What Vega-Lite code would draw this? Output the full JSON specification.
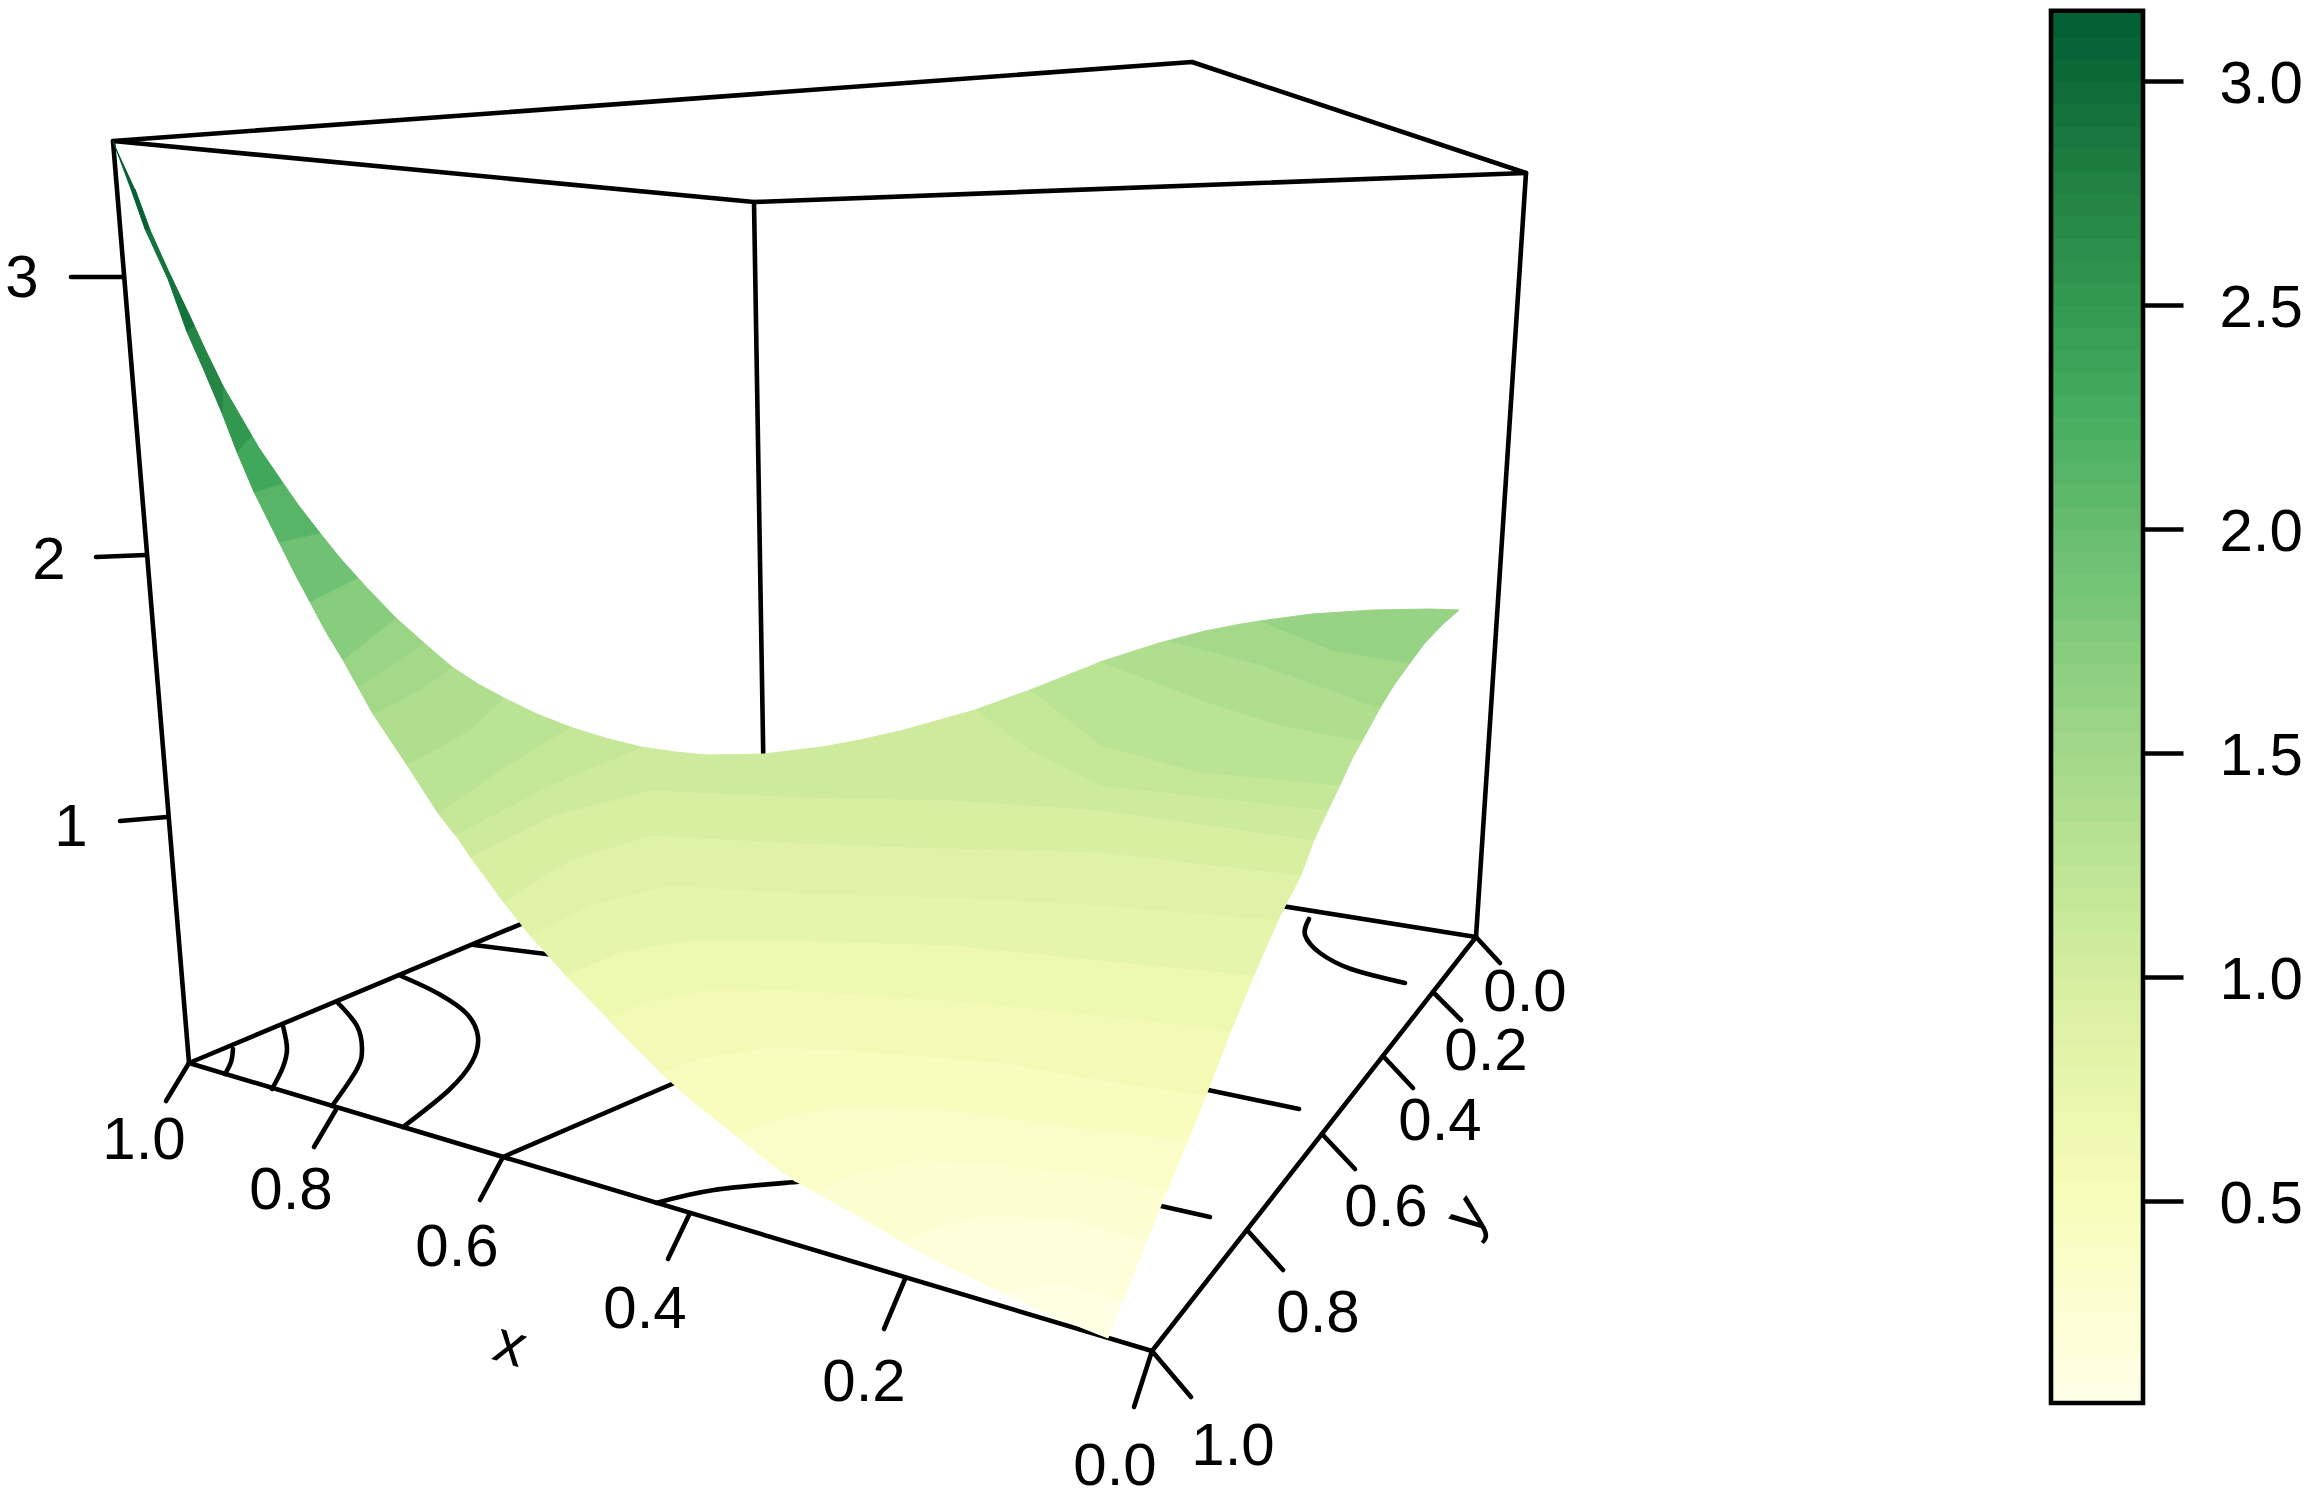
{"$schema":"https://vega.github.io/schema/vega-lite/v6.json","padding":0,"spacing":48,"background":"white","config":{"view":{"stroke":null},"concat":{"spacing":48}},
"datasets":{
"surf":[
{"g":"a","z":0.075,"sx":1000,"sy":1292},{"g":"a","z":0.075,"sx":1055,"sy":1317},{"g":"a","z":0.075,"sx":1108,"sy":1338},{"g":"a","z":0.075,"sx":1123,"sy":1300},{"g":"a","z":0.075,"sx":1060,"sy":1283},
{"g":"b","z":0.15,"sx":1000,"sy":1292},{"g":"b","z":0.15,"sx":1060,"sy":1283},{"g":"b","z":0.15,"sx":1123,"sy":1300},{"g":"b","z":0.15,"sx":1147,"sy":1240},{"g":"b","z":0.15,"sx":1070,"sy":1220},{"g":"b","z":0.15,"sx":990,"sy":1215},{"g":"b","z":0.15,"sx":940,"sy":1225},{"g":"b","z":0.15,"sx":902,"sy":1242},{"g":"b","z":0.15,"sx":953,"sy":1269},
{"g":"c","z":0.25,"sx":902,"sy":1242},{"g":"c","z":0.25,"sx":940,"sy":1225},{"g":"c","z":0.25,"sx":990,"sy":1215},{"g":"c","z":0.25,"sx":1070,"sy":1220},{"g":"c","z":0.25,"sx":1147,"sy":1240},{"g":"c","z":0.25,"sx":1167,"sy":1190},{"g":"c","z":0.25,"sx":1100,"sy":1175},{"g":"c","z":0.25,"sx":1000,"sy":1165},{"g":"c","z":0.25,"sx":920,"sy":1160},{"g":"c","z":0.25,"sx":860,"sy":1172},{"g":"c","z":0.25,"sx":815,"sy":1192},{"g":"c","z":0.25,"sx":851,"sy":1212},
{"g":"d","z":0.35,"sx":815,"sy":1192},{"g":"d","z":0.35,"sx":860,"sy":1172},{"g":"d","z":0.35,"sx":920,"sy":1160},{"g":"d","z":0.35,"sx":1000,"sy":1165},{"g":"d","z":0.35,"sx":1100,"sy":1175},{"g":"d","z":0.35,"sx":1167,"sy":1190},{"g":"d","z":0.35,"sx":1188,"sy":1140},{"g":"d","z":0.35,"sx":1060,"sy":1125},{"g":"d","z":0.35,"sx":950,"sy":1110},{"g":"d","z":0.35,"sx":850,"sy":1105},{"g":"d","z":0.35,"sx":790,"sy":1115},{"g":"d","z":0.35,"sx":735,"sy":1135},{"g":"d","z":0.35,"sx":766,"sy":1160},{"g":"d","z":0.35,"sx":796,"sy":1182},
{"g":"e","z":0.45,"sx":735,"sy":1135},{"g":"e","z":0.45,"sx":790,"sy":1115},{"g":"e","z":0.45,"sx":850,"sy":1105},{"g":"e","z":0.45,"sx":950,"sy":1110},{"g":"e","z":0.45,"sx":1060,"sy":1125},{"g":"e","z":0.45,"sx":1188,"sy":1140},{"g":"e","z":0.45,"sx":1206,"sy":1095},{"g":"e","z":0.45,"sx":1100,"sy":1080},{"g":"e","z":0.45,"sx":1000,"sy":1062},{"g":"e","z":0.45,"sx":850,"sy":1050},{"g":"e","z":0.45,"sx":770,"sy":1047},{"g":"e","z":0.45,"sx":700,"sy":1058},{"g":"e","z":0.45,"sx":660,"sy":1072},{"g":"e","z":0.45,"sx":697,"sy":1105},
{"g":"f","z":0.55,"sx":660,"sy":1072},{"g":"f","z":0.55,"sx":700,"sy":1058},{"g":"f","z":0.55,"sx":770,"sy":1047},{"g":"f","z":0.55,"sx":850,"sy":1050},{"g":"f","z":0.55,"sx":1000,"sy":1062},{"g":"f","z":0.55,"sx":1100,"sy":1080},{"g":"f","z":0.55,"sx":1206,"sy":1095},{"g":"f","z":0.55,"sx":1231,"sy":1030},{"g":"f","z":0.55,"sx":1100,"sy":1015},{"g":"f","z":0.55,"sx":950,"sy":1000},{"g":"f","z":0.55,"sx":800,"sy":990},{"g":"f","z":0.55,"sx":720,"sy":988},{"g":"f","z":0.55,"sx":650,"sy":1000},{"g":"f","z":0.55,"sx":607,"sy":1018},{"g":"f","z":0.55,"sx":634,"sy":1046},
{"g":"h","z":0.65,"sx":607,"sy":1018},{"g":"h","z":0.65,"sx":650,"sy":1000},{"g":"h","z":0.65,"sx":720,"sy":988},{"g":"h","z":0.65,"sx":800,"sy":990},{"g":"h","z":0.65,"sx":950,"sy":1000},{"g":"h","z":0.65,"sx":1100,"sy":1015},{"g":"h","z":0.65,"sx":1231,"sy":1030},{"g":"h","z":0.65,"sx":1254,"sy":975},{"g":"h","z":0.65,"sx":1100,"sy":960},{"g":"h","z":0.65,"sx":950,"sy":945},{"g":"h","z":0.65,"sx":800,"sy":940},{"g":"h","z":0.65,"sx":690,"sy":940},{"g":"h","z":0.65,"sx":620,"sy":952},{"g":"h","z":0.65,"sx":565,"sy":975},
{"g":"i","z":0.75,"sx":565,"sy":975},{"g":"i","z":0.75,"sx":620,"sy":952},{"g":"i","z":0.75,"sx":690,"sy":940},{"g":"i","z":0.75,"sx":800,"sy":940},{"g":"i","z":0.75,"sx":950,"sy":945},{"g":"i","z":0.75,"sx":1100,"sy":960},{"g":"i","z":0.75,"sx":1254,"sy":975},{"g":"i","z":0.75,"sx":1278,"sy":920},{"g":"i","z":0.75,"sx":1100,"sy":905},{"g":"i","z":0.75,"sx":950,"sy":897},{"g":"i","z":0.75,"sx":800,"sy":893},{"g":"i","z":0.75,"sx":670,"sy":885},{"g":"i","z":0.75,"sx":590,"sy":905},{"g":"i","z":0.75,"sx":530,"sy":936},
{"g":"j","z":0.85,"sx":530,"sy":936},{"g":"j","z":0.85,"sx":590,"sy":905},{"g":"j","z":0.85,"sx":670,"sy":885},{"g":"j","z":0.85,"sx":800,"sy":893},{"g":"j","z":0.85,"sx":950,"sy":897},{"g":"j","z":0.85,"sx":1100,"sy":905},{"g":"j","z":0.85,"sx":1278,"sy":920},{"g":"j","z":0.85,"sx":1301,"sy":875},{"g":"j","z":0.85,"sx":1100,"sy":852},{"g":"j","z":0.85,"sx":950,"sy":848},{"g":"j","z":0.85,"sx":800,"sy":843},{"g":"j","z":0.85,"sx":650,"sy":835},{"g":"j","z":0.85,"sx":570,"sy":860},{"g":"j","z":0.85,"sx":503,"sy":902},
{"g":"k","z":0.95,"sx":503,"sy":902},{"g":"k","z":0.95,"sx":570,"sy":860},{"g":"k","z":0.95,"sx":650,"sy":835},{"g":"k","z":0.95,"sx":800,"sy":843},{"g":"k","z":0.95,"sx":950,"sy":848},{"g":"k","z":0.95,"sx":1100,"sy":852},{"g":"k","z":0.95,"sx":1301,"sy":875},{"g":"k","z":0.95,"sx":1314,"sy":840},{"g":"k","z":0.95,"sx":1100,"sy":810},{"g":"k","z":0.95,"sx":950,"sy":800},{"g":"k","z":0.95,"sx":800,"sy":797},{"g":"k","z":0.95,"sx":650,"sy":790},{"g":"k","z":0.95,"sx":555,"sy":815},{"g":"k","z":0.95,"sx":470,"sy":857},
{"g":"l","z":1.05,"sx":470,"sy":857},{"g":"l","z":1.05,"sx":555,"sy":815},{"g":"l","z":1.05,"sx":650,"sy":790},{"g":"l","z":1.05,"sx":800,"sy":797},{"g":"l","z":1.05,"sx":950,"sy":800},{"g":"l","z":1.05,"sx":1100,"sy":810},{"g":"l","z":1.05,"sx":1314,"sy":840},{"g":"l","z":1.05,"sx":1328,"sy":810},{"g":"l","z":1.05,"sx":1220,"sy":798},{"g":"l","z":1.05,"sx":1100,"sy":785},{"g":"l","z":1.05,"sx":1030,"sy":750},{"g":"l","z":1.05,"sx":975,"sy":710},{"g":"l","z":1.05,"sx":904,"sy":730},{"g":"l","z":1.05,"sx":860,"sy":740},{"g":"l","z":1.05,"sx":822,"sy":747},{"g":"l","z":1.05,"sx":764,"sy":754},{"g":"l","z":1.05,"sx":708,"sy":755},{"g":"l","z":1.05,"sx":675,"sy":752},{"g":"l","z":1.05,"sx":641,"sy":747},{"g":"l","z":1.05,"sx":550,"sy":785},{"g":"l","z":1.05,"sx":455,"sy":835},
{"g":"m","z":1.15,"sx":975,"sy":710},{"g":"m","z":1.15,"sx":1030,"sy":690},{"g":"m","z":1.15,"sx":1100,"sy":745},{"g":"m","z":1.15,"sx":1200,"sy":772},{"g":"m","z":1.15,"sx":1340,"sy":785},{"g":"m","z":1.15,"sx":1328,"sy":810},{"g":"m","z":1.15,"sx":1220,"sy":798},{"g":"m","z":1.15,"sx":1100,"sy":785},{"g":"m","z":1.15,"sx":1030,"sy":750},
{"g":"n","z":1.25,"sx":1030,"sy":690},{"g":"n","z":1.25,"sx":1088,"sy":667},{"g":"n","z":1.25,"sx":1100,"sy":662},{"g":"n","z":1.25,"sx":1200,"sy":700},{"g":"n","z":1.25,"sx":1280,"sy":725},{"g":"n","z":1.25,"sx":1362,"sy":741},{"g":"n","z":1.25,"sx":1353,"sy":757},{"g":"n","z":1.25,"sx":1340,"sy":785},{"g":"n","z":1.25,"sx":1200,"sy":772},{"g":"n","z":1.25,"sx":1100,"sy":745},
{"g":"o","z":1.35,"sx":1100,"sy":662},{"g":"o","z":1.35,"sx":1159,"sy":643},{"g":"o","z":1.35,"sx":1167,"sy":641},{"g":"o","z":1.35,"sx":1267,"sy":667},{"g":"o","z":1.35,"sx":1380,"sy":708},{"g":"o","z":1.35,"sx":1362,"sy":741},{"g":"o","z":1.35,"sx":1280,"sy":725},{"g":"o","z":1.35,"sx":1200,"sy":700},
{"g":"p","z":1.45,"sx":1167,"sy":641},{"g":"p","z":1.45,"sx":1205,"sy":631},{"g":"p","z":1.45,"sx":1241,"sy":624},{"g":"p","z":1.45,"sx":1260,"sy":621},{"g":"p","z":1.45,"sx":1330,"sy":650},{"g":"p","z":1.45,"sx":1410,"sy":663},{"g":"p","z":1.45,"sx":1394,"sy":685},{"g":"p","z":1.45,"sx":1380,"sy":708},{"g":"p","z":1.45,"sx":1267,"sy":667},
{"g":"q","z":1.58,"sx":1260,"sy":621},{"g":"q","z":1.58,"sx":1312,"sy":614},{"g":"q","z":1.58,"sx":1374,"sy":610},{"g":"q","z":1.58,"sx":1430,"sy":609},{"g":"q","z":1.58,"sx":1459,"sy":610},{"g":"q","z":1.58,"sx":1442,"sy":625},{"g":"q","z":1.58,"sx":1424,"sy":644},{"g":"q","z":1.58,"sx":1410,"sy":663},{"g":"q","z":1.58,"sx":1330,"sy":650},
{"g":"r","z":1.15,"sx":438,"sy":813},{"g":"r","z":1.15,"sx":455,"sy":835},{"g":"r","z":1.15,"sx":550,"sy":785},{"g":"r","z":1.15,"sx":641,"sy":747},{"g":"r","z":1.15,"sx":605,"sy":738},{"g":"r","z":1.15,"sx":570,"sy":727},{"g":"r","z":1.15,"sx":500,"sy":770},
{"g":"s","z":1.25,"sx":407,"sy":765},{"g":"s","z":1.25,"sx":438,"sy":813},{"g":"s","z":1.25,"sx":500,"sy":770},{"g":"s","z":1.25,"sx":570,"sy":727},{"g":"s","z":1.25,"sx":537,"sy":714},{"g":"s","z":1.25,"sx":504,"sy":698},{"g":"s","z":1.25,"sx":470,"sy":730},
{"g":"t","z":1.35,"sx":373,"sy":714},{"g":"t","z":1.35,"sx":407,"sy":765},{"g":"t","z":1.35,"sx":470,"sy":730},{"g":"t","z":1.35,"sx":504,"sy":698},{"g":"t","z":1.35,"sx":478,"sy":684},{"g":"t","z":1.35,"sx":452,"sy":667},{"g":"t","z":1.35,"sx":420,"sy":690},
{"g":"u","z":1.45,"sx":358,"sy":687},{"g":"u","z":1.45,"sx":373,"sy":714},{"g":"u","z":1.45,"sx":420,"sy":690},{"g":"u","z":1.45,"sx":452,"sy":667},{"g":"u","z":1.45,"sx":424,"sy":643},
{"g":"v","z":1.55,"sx":343,"sy":660},{"g":"v","z":1.55,"sx":358,"sy":687},{"g":"v","z":1.55,"sx":424,"sy":643},{"g":"v","z":1.55,"sx":396,"sy":618},
{"g":"w","z":1.7,"sx":310,"sy":602},{"g":"w","z":1.7,"sx":326,"sy":632},{"g":"w","z":1.7,"sx":343,"sy":660},{"g":"w","z":1.7,"sx":396,"sy":618},{"g":"w","z":1.7,"sx":368,"sy":589},{"g":"w","z":1.7,"sx":358,"sy":578},
{"g":"x","z":1.9,"sx":279,"sy":542},{"g":"x","z":1.9,"sx":294,"sy":572},{"g":"x","z":1.9,"sx":310,"sy":602},{"g":"x","z":1.9,"sx":358,"sy":578},{"g":"x","z":1.9,"sx":340,"sy":558},{"g":"x","z":1.9,"sx":320,"sy":533},
{"g":"y","z":2.1,"sx":254,"sy":492},{"g":"y","z":2.1,"sx":279,"sy":542},{"g":"y","z":2.1,"sx":320,"sy":533},{"g":"y","z":2.1,"sx":299,"sy":506},{"g":"y","z":2.1,"sx":283,"sy":483},
{"g":"z1","z":2.3,"sx":237,"sy":452},{"g":"z1","z":2.3,"sx":254,"sy":492},{"g":"z1","z":2.3,"sx":283,"sy":483},{"g":"z1","z":2.3,"sx":259,"sy":448},{"g":"z1","z":2.3,"sx":252,"sy":436},
{"g":"z2","z":2.5,"sx":222,"sy":413},{"g":"z2","z":2.5,"sx":237,"sy":452},{"g":"z2","z":2.5,"sx":252,"sy":436},{"g":"z2","z":2.5,"sx":223,"sy":386},
{"g":"z3","z":2.7,"sx":187,"sy":332},{"g":"z3","z":2.7,"sx":203,"sy":368},{"g":"z3","z":2.7,"sx":222,"sy":413},{"g":"z3","z":2.7,"sx":223,"sy":386},{"g":"z3","z":2.7,"sx":205,"sy":349},{"g":"z3","z":2.7,"sx":194,"sy":325},
{"g":"z4","z":2.9,"sx":145,"sy":229},{"g":"z4","z":2.9,"sx":168,"sy":279},{"g":"z4","z":2.9,"sx":187,"sy":332},{"g":"z4","z":2.9,"sx":194,"sy":325},{"g":"z4","z":2.9,"sx":187,"sy":310},{"g":"z4","z":2.9,"sx":168,"sy":270},{"g":"z4","z":2.9,"sx":150,"sy":230},
{"g":"z5","z":3.08,"sx":113,"sy":141},{"g":"z5","z":3.08,"sx":131,"sy":189},{"g":"z5","z":3.08,"sx":145,"sy":229},{"g":"z5","z":3.08,"sx":150,"sy":230},{"g":"z5","z":3.08,"sx":135,"sy":189}
],
"lines":[
{"g":"f1","sx":113,"sy":141},{"g":"f1","sx":1192,"sy":62},{"g":"f1","sx":1526,"sy":173},{"g":"f1","sx":754,"sy":202},{"g":"f1","sx":113,"sy":141},
{"g":"f2","sx":113,"sy":141},{"g":"f2","sx":189,"sy":1063},
{"g":"f3","sx":1526,"sy":173},{"g":"f3","sx":1476,"sy":937},
{"g":"f4","sx":754,"sy":202},{"g":"f4","sx":764,"sy":800},
{"g":"f5","sx":189,"sy":1063},{"g":"f5","sx":1152,"sy":1351},{"g":"f5","sx":1476,"sy":937},{"g":"f5","sx":762,"sy":823},{"g":"f5","sx":189,"sy":1063},
{"g":"z3","sx":123,"sy":277},{"g":"z3","sx":71,"sy":277},
{"g":"z2","sx":146,"sy":555},{"g":"z2","sx":96,"sy":557},
{"g":"z1","sx":167,"sy":817},{"g":"z1","sx":120,"sy":821},
{"g":"x10","sx":189,"sy":1063},{"g":"x10","sx":166,"sy":1101},
{"g":"x08","sx":337,"sy":1108},{"g":"x08","sx":314,"sy":1147},
{"g":"x06","sx":503,"sy":1157},{"g":"x06","sx":480,"sy":1200},
{"g":"x04","sx":689,"sy":1215},{"g":"x04","sx":668,"sy":1259},
{"g":"x02","sx":905,"sy":1279},{"g":"x02","sx":884,"sy":1329},
{"g":"x00","sx":1152,"sy":1351},{"g":"x00","sx":1134,"sy":1407},
{"g":"y10","sx":1152,"sy":1351},{"g":"y10","sx":1191,"sy":1397},
{"g":"y08","sx":1247,"sy":1230},{"g":"y08","sx":1283,"sy":1270},
{"g":"y06","sx":1322,"sy":1134},{"g":"y06","sx":1355,"sy":1169},
{"g":"y04","sx":1383,"sy":1056},{"g":"y04","sx":1413,"sy":1088},
{"g":"y02","sx":1433,"sy":992},{"g":"y02","sx":1461,"sy":1020},
{"g":"y00","sx":1476,"sy":937},{"g":"y00","sx":1500,"sy":963},
{"g":"c5","sx":474,"sy":945},{"g":"c5","sx":546,"sy":954},{"g":"c5","sx":620,"sy":965},
{"g":"c6","sx":503,"sy":1157},{"g":"c6","sx":672,"sy":1084},{"g":"c6","sx":720,"sy":1060},
{"g":"c8","sx":1150,"sy":1078},{"g":"c8","sx":1208,"sy":1090},{"g":"c8","sx":1299,"sy":1109},
{"g":"c9","sx":1100,"sy":1192},{"g":"c9","sx":1161,"sy":1206},{"g":"c9","sx":1210,"sy":1217}
],
"curves":[
{"g":"c1","sx":233,"sy":1049},{"g":"c1","sx":231,"sy":1062},{"g":"c1","sx":225,"sy":1074},
{"g":"c2","sx":283,"sy":1026},{"g":"c2","sx":287,"sy":1049},{"g":"c2","sx":283,"sy":1067},{"g":"c2","sx":272,"sy":1089},
{"g":"c3","sx":338,"sy":1003},{"g":"c3","sx":357,"sy":1026},{"g":"c3","sx":362,"sy":1049},{"g":"c3","sx":357,"sy":1069},{"g":"c3","sx":332,"sy":1106},
{"g":"c4","sx":401,"sy":976},{"g":"c4","sx":439,"sy":994},{"g":"c4","sx":467,"sy":1014},{"g":"c4","sx":478,"sy":1037},{"g":"c4","sx":472,"sy":1062},{"g":"c4","sx":449,"sy":1090},{"g":"c4","sx":403,"sy":1127},
{"g":"c7","sx":656,"sy":1203},{"g":"c7","sx":714,"sy":1190},{"g":"c7","sx":796,"sy":1182},{"g":"c7","sx":860,"sy":1178},
{"g":"c10","sx":1309,"sy":919},{"g":"c10","sx":1305,"sy":935},{"g":"c10","sx":1320,"sy":953},{"g":"c10","sx":1351,"sy":969},{"g":"c10","sx":1405,"sy":983}
],
"labels":[
{"t":"3","sx":22,"sy":276},{"t":"2","sx":49,"sy":558},{"t":"1","sx":71,"sy":825},
{"t":"1.0","sx":144,"sy":1138},{"t":"0.8","sx":291,"sy":1188},{"t":"0.6","sx":457,"sy":1245},{"t":"0.4","sx":645,"sy":1307},{"t":"0.2","sx":864,"sy":1380},{"t":"0.0","sx":1115,"sy":1464},
{"t":"1.0","sx":1233,"sy":1444},{"t":"0.8","sx":1318,"sy":1311},{"t":"0.6","sx":1386,"sy":1205},{"t":"0.4","sx":1440,"sy":1119},{"t":"0.2","sx":1486,"sy":1049},{"t":"0.0","sx":1525,"sy":990}
],
"titles":[{"t":"x","sx":510,"sy":1346,"a":17},{"t":"y","sx":1468,"sy":1215,"a":-52}],
"bar":[
{"lo":0.05,"hi":0.1},{"lo":0.1,"hi":0.15},{"lo":0.15,"hi":0.2},{"lo":0.2,"hi":0.25},{"lo":0.25,"hi":0.3},{"lo":0.3,"hi":0.35},{"lo":0.35,"hi":0.4},{"lo":0.4,"hi":0.45},{"lo":0.45,"hi":0.5},{"lo":0.5,"hi":0.55},{"lo":0.55,"hi":0.6},{"lo":0.6,"hi":0.65},{"lo":0.65,"hi":0.7},{"lo":0.7,"hi":0.75},{"lo":0.75,"hi":0.8},{"lo":0.8,"hi":0.85},{"lo":0.85,"hi":0.9},{"lo":0.9,"hi":0.95},{"lo":0.95,"hi":1.0},{"lo":1.0,"hi":1.05},{"lo":1.05,"hi":1.1},{"lo":1.1,"hi":1.15},{"lo":1.15,"hi":1.2},{"lo":1.2,"hi":1.25},{"lo":1.25,"hi":1.3},{"lo":1.3,"hi":1.35},{"lo":1.35,"hi":1.4},{"lo":1.4,"hi":1.45},{"lo":1.45,"hi":1.5},{"lo":1.5,"hi":1.55},{"lo":1.55,"hi":1.6},{"lo":1.6,"hi":1.65},{"lo":1.65,"hi":1.7},{"lo":1.7,"hi":1.75},{"lo":1.75,"hi":1.8},{"lo":1.8,"hi":1.85},{"lo":1.85,"hi":1.9},{"lo":1.9,"hi":1.95},{"lo":1.95,"hi":2.0},{"lo":2.0,"hi":2.05},{"lo":2.05,"hi":2.1},{"lo":2.1,"hi":2.15},{"lo":2.15,"hi":2.2},{"lo":2.2,"hi":2.25},{"lo":2.25,"hi":2.3},{"lo":2.3,"hi":2.35},{"lo":2.35,"hi":2.4},{"lo":2.4,"hi":2.45},{"lo":2.45,"hi":2.5},{"lo":2.5,"hi":2.55},{"lo":2.55,"hi":2.6},{"lo":2.6,"hi":2.65},{"lo":2.65,"hi":2.7},{"lo":2.7,"hi":2.75},{"lo":2.75,"hi":2.8},{"lo":2.8,"hi":2.85},{"lo":2.85,"hi":2.9},{"lo":2.9,"hi":2.95},{"lo":2.95,"hi":3.0},{"lo":3.0,"hi":3.05},{"lo":3.05,"hi":3.1},{"lo":3.1,"hi":3.157}
],
"box":[{"lo":0.049,"hi":3.157}]
},
"hconcat":[
{"width":2000,"height":1494,
"layer":[
{"data":{"name":"lines"},"mark":{"type":"line","stroke":"black","strokeWidth":4.6,"strokeCap":"round","strokeJoin":"round"},
"encoding":{"x":{"field":"sx","type":"quantitative","scale":{"domain":[0,2000],"nice":false,"zero":false},"axis":null},"y":{"field":"sy","type":"quantitative","scale":{"domain":[1494,0],"nice":false,"zero":false},"axis":null},"detail":{"field":"g"},"order":{"value":null}}},
{"data":{"name":"curves"},"mark":{"type":"line","stroke":"black","strokeWidth":4.6,"strokeCap":"round","strokeJoin":"round","interpolate":"cardinal"},
"encoding":{"x":{"field":"sx","type":"quantitative","scale":{"domain":[0,2000],"nice":false,"zero":false},"axis":null},"y":{"field":"sy","type":"quantitative","scale":{"domain":[1494,0],"nice":false,"zero":false},"axis":null},"detail":{"field":"g"},"order":{"value":null}}},
{"data":{"name":"surf"},"mark":{"type":"line","strokeWidth":1,"strokeJoin":"round"},
"encoding":{"x":{"field":"sx","type":"quantitative","scale":{"domain":[0,2000],"nice":false,"zero":false},"axis":null},"y":{"field":"sy","type":"quantitative","scale":{"domain":[1494,0],"nice":false,"zero":false},"axis":null},"detail":{"field":"g"},"order":{"value":null},
"fill":{"field":"z","type":"quantitative","legend":null,"scale":{"domain":[0.05,0.494,0.938,1.382,1.826,2.27,2.714,3.157],"range":["#ffffe5","#f7fcb9","#d9f0a3","#addd8e","#78c679","#41ab5d","#238443","#005a32"]}},
"stroke":{"field":"z","type":"quantitative","legend":null,"scale":{"domain":[0.05,0.494,0.938,1.382,1.826,2.27,2.714,3.157],"range":["#ffffe5","#f7fcb9","#d9f0a3","#addd8e","#78c679","#41ab5d","#238443","#005a32"]}}}},
{"data":{"name":"labels"},"mark":{"type":"text","font":"Liberation Sans","fontSize":60,"color":"black","align":"center","baseline":"middle","dy":3},
"encoding":{"x":{"field":"sx","type":"quantitative","scale":{"domain":[0,2000],"nice":false,"zero":false},"axis":null},"y":{"field":"sy","type":"quantitative","scale":{"domain":[1494,0],"nice":false,"zero":false},"axis":null},"text":{"field":"t"}}},
{"data":{"name":"titles"},"mark":{"type":"text","font":"Liberation Sans","fontSize":60,"color":"black","align":"center","baseline":"middle"},
"encoding":{"x":{"field":"sx","type":"quantitative","scale":{"domain":[0,2000],"nice":false,"zero":false},"axis":null},"y":{"field":"sy","type":"quantitative","scale":{"domain":[1494,0],"nice":false,"zero":false},"axis":null},"text":{"field":"t"},"angle":{"field":"a","type":"quantitative","scale":null}}}
]},
{"width":92,"height":1494,
"layer":[
{"data":{"name":"bar"},"mark":{"type":"rect","strokeWidth":1},
"encoding":{"y":{"field":"lo","type":"quantitative","scale":{"domain":[-0.154,3.181],"nice":false,"zero":false},"axis":{"orient":"right","title":null,"domain":false,"grid":false,"values":[0.5,1,1.5,2,2.5,3],"format":".1f","tickSize":40,"tickWidth":4.6,"tickColor":"black","labelFont":"Liberation Sans","labelFontSize":60,"labelColor":"black","labelPadding":36,"labelOffset":3,"labelOverlap":false,"labelFlush":false,"labelBound":false}},"y2":{"field":"hi"},
"fill":{"field":"lo","type":"quantitative","legend":null,"scale":{"domain":[0.05,0.494,0.938,1.382,1.826,2.27,2.714,3.157],"range":["#ffffe5","#f7fcb9","#d9f0a3","#addd8e","#78c679","#41ab5d","#238443","#005a32"]}},
"stroke":{"field":"lo","type":"quantitative","legend":null,"scale":{"domain":[0.05,0.494,0.938,1.382,1.826,2.27,2.714,3.157],"range":["#ffffe5","#f7fcb9","#d9f0a3","#addd8e","#78c679","#41ab5d","#238443","#005a32"]}}}},
{"data":{"name":"box"},"mark":{"type":"rect","fill":null,"stroke":"black","strokeWidth":4.6},
"encoding":{"y":{"field":"lo","type":"quantitative","scale":{"domain":[-0.154,3.181],"nice":false,"zero":false}},"y2":{"field":"hi"}}}
]}
]}
